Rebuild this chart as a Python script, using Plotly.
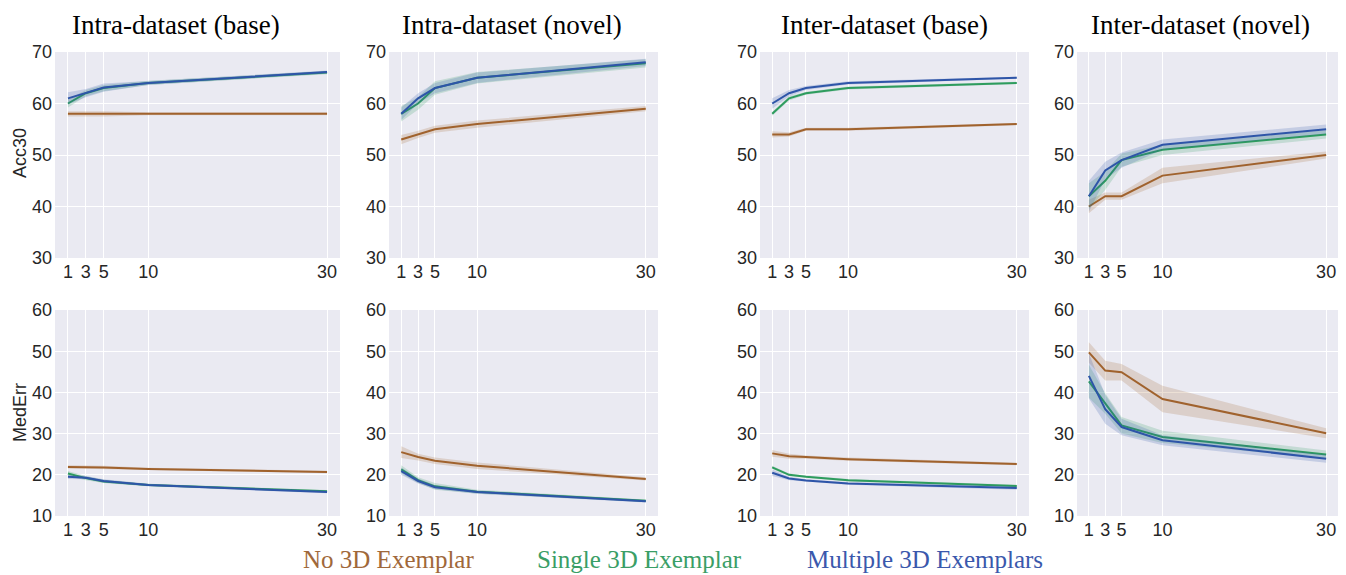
import plotly.graph_objects as go

# ---------------- data ----------------
shots = [1, 3, 5, 10, 30]
series_names = ["No 3D Exemplar", "Single 3D Exemplar", "Multiple 3D Exemplars"]
panel_titles = ["Intra-dataset (base)", "Intra-dataset (novel)", "Inter-dataset (base)", "Inter-dataset (novel)"]
metric_names = ["Acc30", "MedErr"]
x_ticks = [1, 3, 5, 10, 30]

# Acc30 (top row): [no, single, multiple]
acc_intra_base = [[58.0, 58.0, 58.0, 58.0, 58.0],
                  [60.0, 62.0, 63.0, 64.0, 66.0],
                  [61.0, 62.0, 63.1, 64.0, 66.1]]
acc_intra_base_band = [[0.5, 0.5, 0.5, 0.3, 0.3],
                       [0.8, 0.6, 0.6, 0.4, 0.3],
                       [1.2, 0.8, 0.8, 0.4, 0.3]]
acc_intra_novel = [[53.0, 54.0, 55.0, 56.0, 59.0],
                   [58.0, 60.0, 63.0, 65.0, 67.8],
                   [58.0, 61.0, 63.0, 65.0, 68.0]]
acc_intra_novel_band = [[0.9, 0.7, 0.7, 0.7, 0.5],
                        [1.5, 1.2, 1.3, 1.1, 0.8],
                        [1.2, 1.0, 1.0, 1.0, 0.7]]
acc_inter_base = [[54.0, 54.0, 55.0, 55.0, 56.0],
                  [58.0, 61.0, 62.0, 63.0, 64.0],
                  [60.0, 62.0, 63.0, 64.0, 65.0]]
acc_inter_base_band = [[0.6, 0.4, 0.3, 0.3, 0.2],
                       [0.4, 0.4, 0.3, 0.3, 0.2],
                       [1.0, 0.6, 0.4, 0.3, 0.2]]
acc_inter_novel = [[40.0, 42.0, 42.0, 46.0, 50.0],
                   [42.0, 45.0, 49.0, 51.0, 54.0],
                   [42.0, 47.0, 49.0, 52.0, 55.0]]
acc_inter_novel_band = [[1.3, 0.7, 0.7, 1.5, 0.7],
                        [2.5, 1.8, 1.3, 1.0, 0.8],
                        [3.0, 1.7, 1.5, 1.0, 0.9]]

# MedErr (bottom row): [no, single, multiple]
med_intra_base = [[21.9, 21.9, 21.8, 21.4, 20.7],
                  [20.3, 19.2, 18.4, 17.5, 16.0],
                  [19.5, 19.3, 18.5, 17.5, 15.8]]
med_intra_base_band = [[0.4, 0.4, 0.4, 0.3, 0.3],
                       [0.6, 0.5, 0.4, 0.3, 0.3],
                       [0.5, 0.4, 0.4, 0.3, 0.3]]
med_intra_novel = [[25.5, 24.3, 23.4, 22.2, 19.0],
                   [21.3, 18.7, 17.2, 15.9, 13.7],
                   [20.9, 18.5, 17.0, 15.8, 13.6]]
med_intra_novel_band = [[1.4, 0.8, 0.8, 0.8, 0.4],
                        [1.0, 0.7, 0.8, 0.5, 0.3],
                        [0.9, 0.6, 0.5, 0.4, 0.3]]
med_inter_base = [[25.2, 24.5, 24.3, 23.8, 22.6],
                  [21.8, 20.0, 19.5, 18.7, 17.3],
                  [20.5, 19.1, 18.6, 17.9, 16.8]]
med_inter_base_band = [[0.8, 0.6, 0.4, 0.4, 0.3],
                       [0.4, 0.3, 0.3, 0.3, 0.3],
                       [0.8, 0.4, 0.3, 0.3, 0.4]]
med_inter_novel = [[49.7, 45.3, 44.9, 38.4, 30.1],
                   [42.7, 37.3, 32.0, 29.2, 24.9],
                   [44.0, 35.9, 31.6, 28.4, 23.9]]
med_inter_novel_band = [[2.5, 2.4, 2.0, 3.2, 1.2],
                        [4.0, 2.5, 2.0, 1.5, 1.0],
                        [5.5, 3.5, 2.0, 1.2, 1.0]]

acc_panels = [acc_intra_base, acc_intra_novel, acc_inter_base, acc_inter_novel]
acc_bands = [acc_intra_base_band, acc_intra_novel_band, acc_inter_base_band, acc_inter_novel_band]
med_panels = [med_intra_base, med_intra_novel, med_inter_base, med_inter_novel]
med_bands = [med_intra_base_band, med_intra_novel_band, med_inter_base_band, med_inter_novel_band]

# ---------------- style ----------------
OFF = 8                      # page body margin
W, H = 1346 - 2 * OFF, 575 - OFF


def px_x(p):
    return (p - OFF) / W


def px_y(p):
    return 1 - (p - OFF) / H


line_colors = ["#A0622D", "#2E9C5E", "#2E55A8"]
band_colors = ["rgba(160,98,45,0.2)", "rgba(46,156,94,0.2)", "rgba(46,85,168,0.2)"]
text_colors = ["#A0683A", "#3A9E66", "#3A58AC"]
col_px = [(55, 340), (389, 658), (760, 1029), (1077, 1338)]
row_px = [(52, 258), (310, 516)]
y_ranges = [[30, 70], [10, 60]]
title_x_px = [176, 512, 884, 1200]
legend_x_px = [388, 639, 925]
ylabel_y_px = [153, 413]
tick_font = dict(family="Liberation Sans, Arial, sans-serif", size=18, color="#262626")
serif = "Liberation Serif, Times New Roman, serif"

fig = go.Figure()
layout = dict(width=W, height=H, margin=dict(l=0, r=0, t=0, b=0, autoexpand=False),
              paper_bgcolor="white", plot_bgcolor="#EAEAF2", showlegend=False)

for r, (panels, bands) in enumerate([(acc_panels, acc_bands), (med_panels, med_bands)]):
    for c in range(4):
        idx = r * 4 + c + 1
        xa = "x" if idx == 1 else f"x{idx}"
        ya = "y" if idx == 1 else f"y{idx}"
        for s in range(3):
            vals = panels[c][s]
            bw = bands[c][s]
            upper = [v + b for v, b in zip(vals, bw)]
            lower = [v - b for v, b in zip(vals, bw)]
            fig.add_trace(go.Scatter(x=shots + shots[::-1], y=upper + lower[::-1],
                                     fill="toself", fillcolor=band_colors[s],
                                     line=dict(width=0), mode="lines", hoverinfo="skip",
                                     xaxis=xa, yaxis=ya, name=series_names[s]))
            fig.add_trace(go.Scatter(x=shots, y=vals, mode="lines",
                                     line=dict(color=line_colors[s], width=2),
                                     xaxis=xa, yaxis=ya, name=series_names[s]))
        x0, x1 = col_px[c]
        y0, y1 = row_px[r]
        layout[f"xaxis{'' if idx == 1 else idx}"] = dict(
            domain=[px_x(x0), min(1.0, px_x(x1))], anchor=ya, range=[-0.45, 31.45],
            tickvals=x_ticks, ticktext=[str(t) for t in x_ticks], tickfont=tick_font,
            showgrid=True, gridcolor="white", gridwidth=1, zeroline=False, showline=False,
            ticks="", ticklabelstandoff=1, ticklabeloverflow="allow", automargin=False)
        layout[f"yaxis{'' if idx == 1 else idx}"] = dict(
            domain=[px_y(y1), px_y(y0)], anchor=xa, range=y_ranges[r], dtick=10,
            tickfont=tick_font, showgrid=True, gridcolor="white", gridwidth=1,
            zeroline=False, showline=False, ticks="", ticklabelstandoff=2,
            ticklabeloverflow="allow", automargin=False)

annotations = []
for c in range(4):
    annotations.append(dict(text=panel_titles[c], x=px_x(title_x_px[c]), y=1.0,
                            xref="paper", yref="paper", xanchor="center", yanchor="top",
                            showarrow=False, font=dict(family=serif, size=27, color="black")))
for r in range(2):
    annotations.append(dict(text=metric_names[r], x=0.0, y=px_y(ylabel_y_px[r]),
                            xref="paper", yref="paper", xanchor="left", yanchor="middle",
                            textangle=-90, showarrow=False,
                            font=dict(family="Liberation Sans, Arial, sans-serif", size=18, color="#262626")))
for s in range(3):
    annotations.append(dict(text=series_names[s], x=px_x(legend_x_px[s]), y=0.0,
                            xref="paper", yref="paper", xanchor="center", yanchor="bottom",
                            showarrow=False, font=dict(family=serif, size=25, color=text_colors[s])))
layout["annotations"] = annotations
fig.update_layout(**layout)
fig.write_html("out.html")
